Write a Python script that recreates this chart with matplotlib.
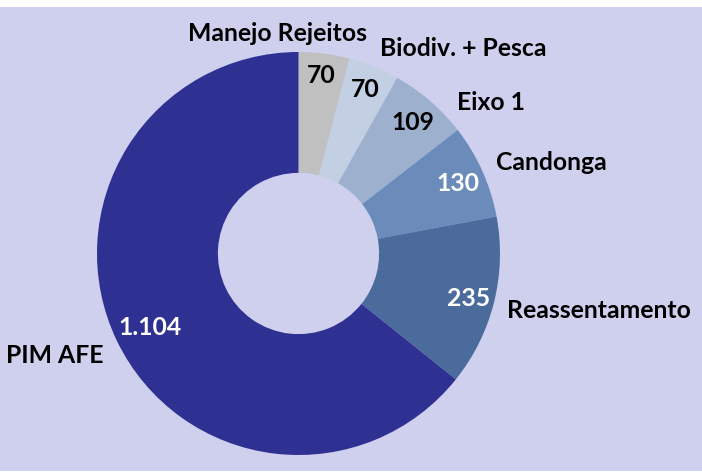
import matplotlib
matplotlib.use("Agg")
import matplotlib.pyplot as plt
from matplotlib.patches import Rectangle
import numpy as np

# Data
categories = ["Manejo Rejeitos", "Biodiv. + Pesca", "Eixo 1", "Candonga",
              "Reassentamento", "PIM AFE"]
values = [70, 70, 109, 130, 235, 1104]
value_labels = ["70", "70", "109", "130", "235", "1.104"]

# Styles
colors = ["#c0c0c0", "#c3cfe2", "#9db1cf", "#6b8cba", "#4a6b9b", "#2e3192"]
value_colors = ["black", "black", "black", "white", "white", "white"]
value_radius = [0.90, 0.89, 0.87, 0.87, 0.87, 0.82]
# category label anchors (data units relative to donut centre), alignment
cat_pos = [(-0.102, 1.055, "center"), (0.404, 0.980, "left"),
           (0.787, 0.712, "left"), (0.980, 0.414, "left"),
           (1.035, -0.320, "left"), (-0.970, -0.543, "right")]

W, H = 702, 474
fig = plt.figure(figsize=(W / 100, H / 100), dpi=100)
fig.patch.set_facecolor("white")
fig.patches.append(Rectangle((0, 3 / H), 1, (H - 10) / H, transform=fig.transFigure,
                             facecolor="#cfd0ee", edgecolor="none", zorder=-5))

cx, cy, R = 298.5, H - 253.5, 201.5
ax = fig.add_axes([(cx - R) / W, (cy - R) / H, 2 * R / W, 2 * R / H])
ax.set_zorder(5)
ax.set_facecolor("none")

wedges, _ = ax.pie(values, colors=colors, startangle=90, counterclock=False,
                   radius=1.0, wedgeprops=dict(width=0.6, linewidth=0))
ax.set_xlim(-1, 1)
ax.set_ylim(-1, 1)
ax.set_aspect("equal")
ax.axis("off")

font = dict(family=["Lato", "DejaVu Sans"], fontweight="bold", fontsize=17.8)

for w, lab, col, r in zip(wedges, value_labels, value_colors, value_radius):
    ang = np.deg2rad((w.theta1 + w.theta2) / 2)
    ax.text(r * np.cos(ang), r * np.sin(ang), lab, color=col, ha="center",
            va="center_baseline", clip_on=False, **font)

for cat, (x, y, ha) in zip(categories, cat_pos):
    ax.text(x, y, cat, color="black", ha=ha, va="baseline", clip_on=False, **font)

fig.savefig("out.png", dpi=100, facecolor=fig.get_facecolor())
